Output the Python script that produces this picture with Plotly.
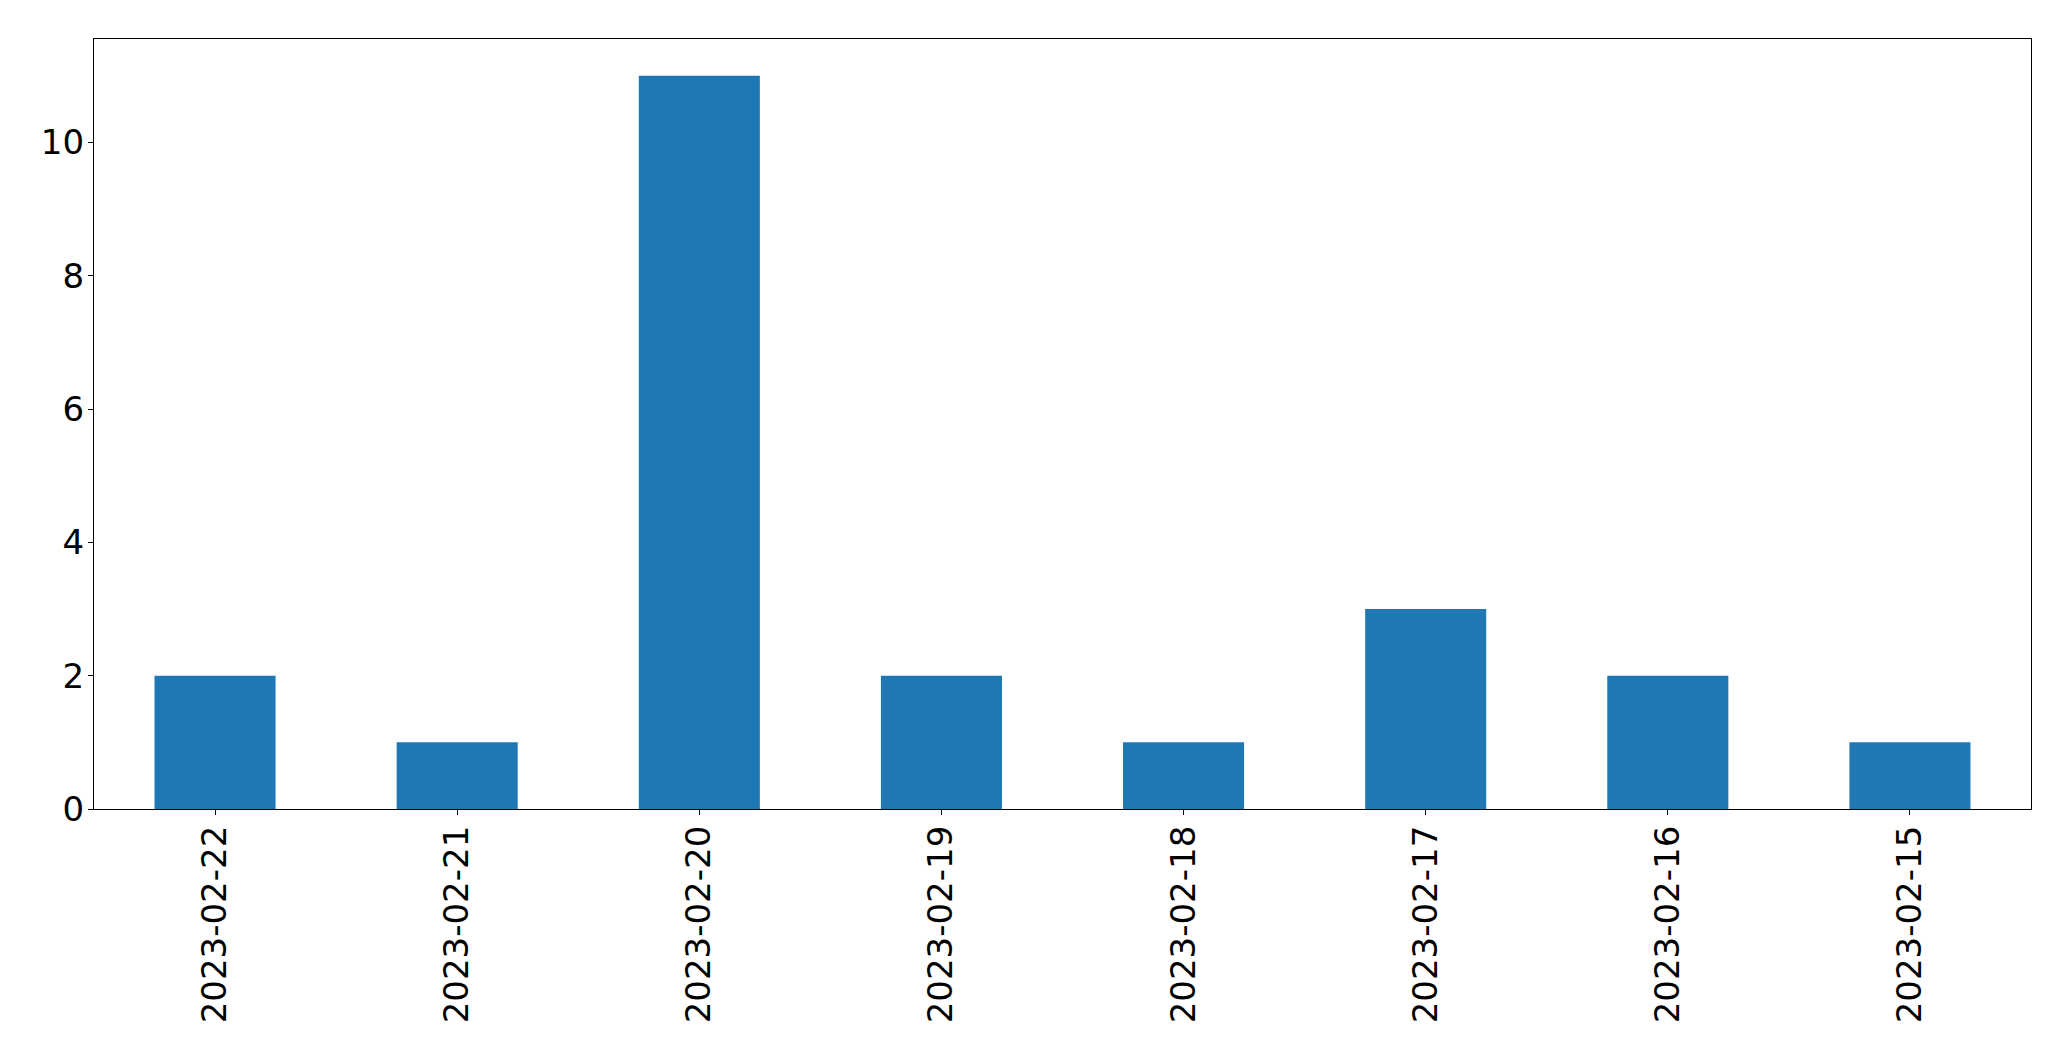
import plotly.graph_objects as go

dates = ["2023-02-22", "2023-02-21", "2023-02-20", "2023-02-19",
         "2023-02-18", "2023-02-17", "2023-02-16", "2023-02-15"]
counts = [2, 1, 11, 2, 1, 3, 2, 1]
y_ticks = [0, 2, 4, 6, 8, 10]

fig = go.Figure(go.Bar(
    x=list(range(len(dates))), y=counts, width=0.5,
    marker=dict(color="#1f77b4", line=dict(width=0)),
))

font = dict(family="DejaVu Sans", size=34, color="black")
fig.update_layout(
    width=2071, height=1061,
    margin=dict(l=94, r=40, t=39, b=252),
    paper_bgcolor="white", plot_bgcolor="white",
    showlegend=False, font=font,
)
fig.update_xaxes(
    range=[-0.5, len(dates) - 0.5],
    tickmode="array", tickvals=list(range(len(dates))), ticktext=dates,
    tickangle=-90, ticks="outside", ticklen=5, tickwidth=1.3, tickcolor="black",
    showline=True, linecolor="black", linewidth=1.3, mirror=True,
    showgrid=False, zeroline=False, tickfont=font, ticklabelstandoff=-3,
)
fig.update_yaxes(
    range=[0, max(counts) * 1.05],
    tickmode="array", tickvals=y_ticks,
    ticks="outside", ticklen=5, tickwidth=1.3, tickcolor="black",
    showline=True, linecolor="black", linewidth=1.3, mirror=True,
    showgrid=False, zeroline=False, tickfont=font, ticklabelstandoff=-3,
)
fig.write_html("out.html")
